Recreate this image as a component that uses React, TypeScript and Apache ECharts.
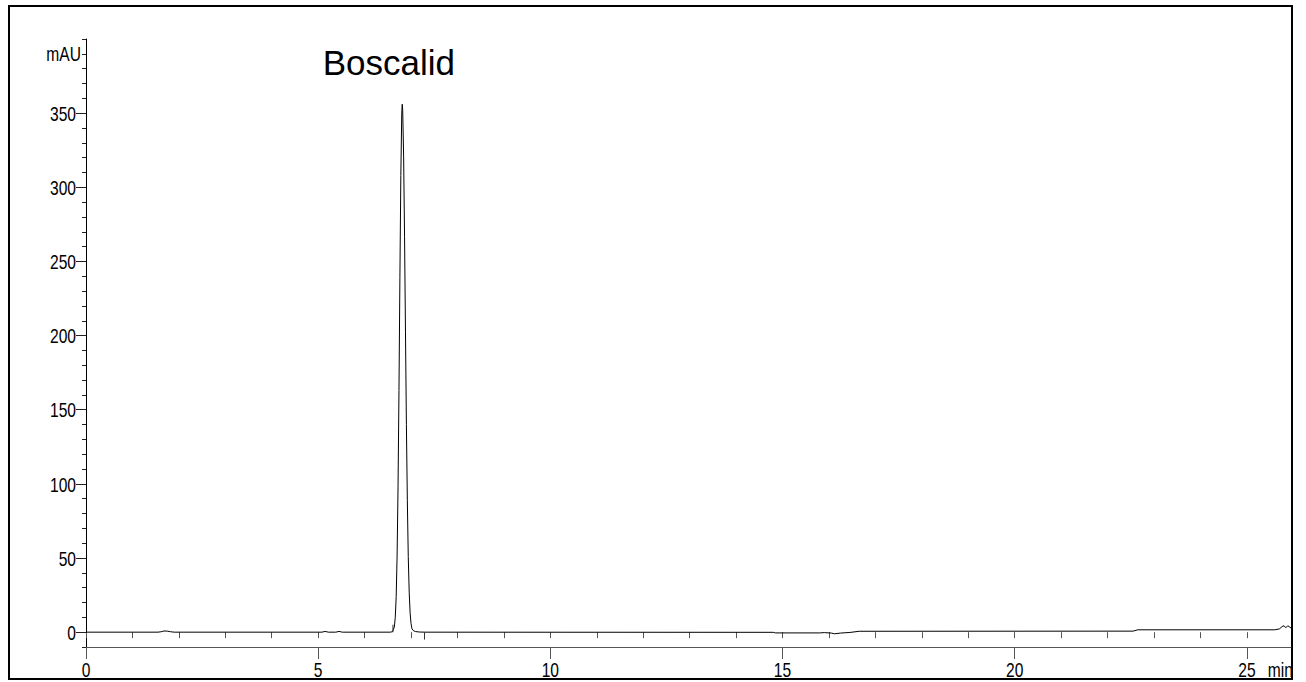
import React, { useEffect, useRef } from "react";
import * as echarts from "echarts";

// Chromatogram trace (time in min, absorbance in mAU)
const TIMES = [
  0, 1.55, 1.62, 1.68, 1.75, 1.82, 1.9,
  5.08, 5.15, 5.22, 5.38, 5.45, 5.52,
  6.55, 6.6, 6.64, 6.66, 6.68, 6.7, 6.72, 6.74, 6.76, 6.78, 6.8, 6.81,
  6.82, 6.84, 6.86, 6.88, 6.9, 6.92, 6.94, 6.96, 6.98, 7.0, 7.02, 7.05, 7.1, 7.18, 7.3,
  14.8, 14.85, 15.8, 15.9, 16.05, 16.12, 16.25, 16.45, 16.65,
  22.55, 22.65, 25.6, 25.7, 25.76, 25.8, 25.84, 25.88, 25.92, 25.95,
];
const SIGNAL = [
  0, 0, 0.3, 0.8, 0.7, 0.3, 0,
  0, 0.5, 0, 0, 0.5, 0,
  0, 0.3, 3.5, 9.8, 24, 52, 98, 163, 239, 308, 350, 356,
  352, 321, 267, 203, 140, 89, 51, 27, 13, 5.7, 2.3, 1.0, 0.4, 0.1, 0,
  -0.1, -0.5, -0.5, -0.3, -0.6, -1.1, -0.6, -0.2, 0.6,
  0.7, 1.6, 1.6, 2.2, 3.8, 4.3, 3.0, 4.3, 3.5, 2.8,
];

// Integration markers (start / end of the peak)
const MARKER_TIMES = [6.61, 7.29];
const MARKER_HEIGHTS = [5, -5];

const PEAK_NAME = "Boscalid";
const Y_UNIT = "mAU";
const X_UNIT = "min";

const X_MIN = 0;
const X_MAX = 25.95;
const Y_MIN = -10;
const Y_MAX = 400;

const X_MAJOR = [0, 5, 10, 15, 20, 25];
const X_MINOR = [
  0, 1, 2, 3, 4, 5, 6, 7, 8, 9, 10, 11, 12, 13, 14, 15, 16, 17, 18, 19, 20, 21, 22, 23, 24, 25,
];
const Y_MAJOR = [0, 50, 100, 150, 200, 250, 300, 350];
const Y_MINOR = [
  -10, 0, 10, 20, 30, 40, 50, 60, 70, 80, 90, 100, 110, 120, 130, 140, 150, 160, 170, 180, 190,
  200, 210, 220, 230, 240, 250, 260, 270, 280, 290, 300, 310, 320, 330, 340, 350, 360, 370, 380,
  390, 400,
];
const Y_UNIT_AT = 390;
const X_UNIT_AT = 25.45;

const LABEL_FONT = "20px 'Liberation Sans', Arial, sans-serif";
const LABEL_SCALE_X = 0.78;

export default function App() {
  const ref = useRef<HTMLDivElement>(null);

  useEffect(() => {
    if (!ref.current) return;
    const chart = echarts.init(ref.current, undefined, { renderer: "svg" });

    const trace = TIMES.map((t, i) => [t, SIGNAL[i]]);
    const markerSeries = MARKER_TIMES.map((t, i) => ({
      type: "line",
      data: [
        [t, 0],
        [t, MARKER_HEIGHTS[i]],
      ],
      showSymbol: false,
      silent: true,
      lineStyle: { color: "#333", width: 1 },
      xAxisIndex: 0,
      yAxisIndex: 0,
    }));

    const grid = { left: 86, top: 39, width: 1205, height: 608 };

    chart.setOption({
      animation: false,
      backgroundColor: "#fff",
      grid,
      xAxis: [
        {
          type: "value",
          min: X_MIN,
          max: X_MAX,
          position: "bottom",
          axisLine: { show: true, onZero: false, lineStyle: { color: "#555", width: 1 } },
          axisTick: { show: true, length: 12, customValues: X_MAJOR, lineStyle: { color: "#555" } },
          axisLabel: { show: false },
          splitLine: { show: false },
        },
        {
          type: "value",
          min: X_MIN,
          max: X_MAX,
          position: "bottom",
          offset: 0,
          axisLine: { show: false },
          axisTick: { show: true, length: 6, customValues: X_MINOR, lineStyle: { color: "#555" } },
          axisLabel: { show: false },
          splitLine: { show: false },
        },
      ],
      yAxis: [
        {
          type: "value",
          min: Y_MIN,
          max: Y_MAX,
          position: "left",
          axisLine: { show: true, onZero: false, lineStyle: { color: "#000", width: 1 } },
          axisTick: { show: true, length: 10, customValues: Y_MAJOR, lineStyle: { color: "#222" } },
          axisLabel: { show: false },
          splitLine: { show: false },
        },
        {
          type: "value",
          min: Y_MIN,
          max: Y_MAX,
          position: "left",
          offset: 0,
          axisLine: { show: false },
          axisTick: { show: true, length: 4, customValues: Y_MINOR, lineStyle: { color: "#222" } },
          axisLabel: { show: false },
          splitLine: { show: false },
        },
      ],
      series: [
        {
          type: "line",
          data: trace,
          showSymbol: false,
          silent: true,
          lineStyle: { color: "#000", width: 1 },
          xAxisIndex: 0,
          yAxisIndex: 0,
        },
        ...markerSeries,
      ],
    });

    // Condensed tick labels, placed through the axes' own scales
    const xAxisLeft = grid.left;
    const xAxisY = grid.top + grid.height;
    const px = (v: number) => chart.convertToPixel({ xAxisIndex: 0 }, v) as number;
    const py = (v: number) => chart.convertToPixel({ yAxisIndex: 0 }, v) as number;

    const txt = (text: string, x: number, y: number, align: string) => ({
      type: "text",
      x,
      y,
      scaleX: LABEL_SCALE_X,
      silent: true,
      style: { text, fill: "#000", font: LABEL_FONT, align, verticalAlign: "middle" },
    });

    const yLabels = Y_MAJOR.map((v) => txt(String(v), xAxisLeft - 10, py(v) + 1, "right"));
    const unitY = txt(Y_UNIT, xAxisLeft - 5, py(Y_UNIT_AT), "right");
    const xLabels = X_MAJOR.map((v) => txt(String(v), px(v), xAxisY + 23, "center"));
    const unitX = txt(X_UNIT, px(X_UNIT_AT), xAxisY + 23, "left");

    chart.setOption({
      graphic: [
        {
          type: "text",
          x: 322.7,
          y: 62.7,
          silent: true,
          style: {
            text: PEAK_NAME,
            fill: "#000",
            font: "35px 'Liberation Sans', Arial, sans-serif",
            verticalAlign: "middle",
            align: "left",
          },
        },
        ...yLabels,
        unitY,
        ...xLabels,
        unitX,
        // page area outside the frame (clips the unit label like the original)
        {
          type: "rect",
          silent: true,
          shape: { x: 1293, y: 0, width: 13, height: 682 },
          style: { fill: "#fff" },
        },
        // outer frame
        {
          type: "rect",
          silent: true,
          shape: { x: 9, y: 6, width: 1283, height: 673 },
          style: { fill: "none", stroke: "#000", lineWidth: 2 },
        },
      ],
    });

    return () => chart.dispose();
  }, []);

  return (
    <div
      ref={ref}
      style={{ position: "fixed", left: 0, top: 0, width: 1306, height: 682, background: "#fff" }}
    />
  );
}
